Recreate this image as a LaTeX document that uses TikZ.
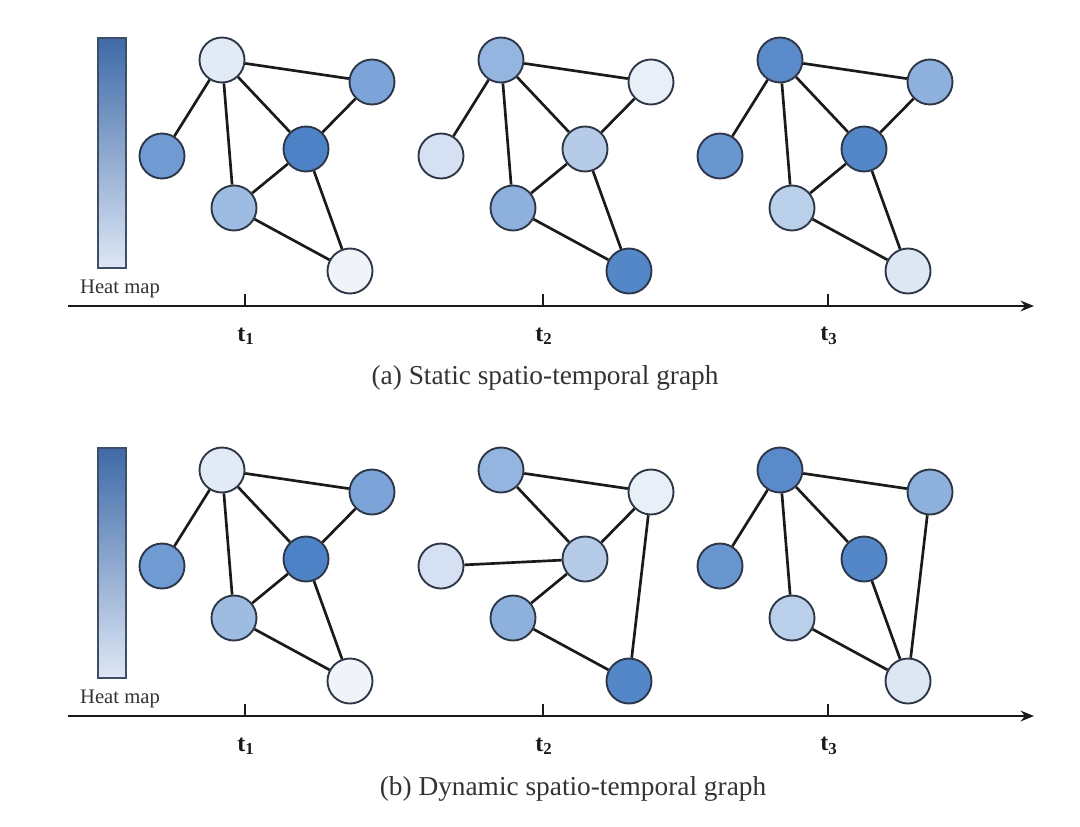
\documentclass[tikz,border=0pt]{standalone}
\usepackage{fontspec}
\setmainfont{Liberation Serif}
\usetikzlibrary{arrows.meta}
\definecolor{nodeborder}{HTML}{2C3646}
\definecolor{edgecol}{HTML}{1A1A1A}
\definecolor{hmtop}{HTML}{3E6AA8}
\definecolor{hmbot}{HTML}{DDE7F5}
\definecolor{hmborder}{HTML}{3F4D66}
\definecolor{txtcol}{HTML}{333333}
% node fills
\definecolor{gAa}{HTML}{E2EAF5}
\definecolor{gAb}{HTML}{7CA4D8}
\definecolor{gAc}{HTML}{6F9AD2}
\definecolor{gAd}{HTML}{4E82C6}
\definecolor{gAe}{HTML}{9EBCE2}
\definecolor{gAf}{HTML}{F0F3F8}
\definecolor{gBa}{HTML}{93B5E0}
\definecolor{gBb}{HTML}{E9EFF7}
\definecolor{gBc}{HTML}{D5E1F2}
\definecolor{gBd}{HTML}{B5CBE8}
\definecolor{gBe}{HTML}{8EB0DC}
\definecolor{gBf}{HTML}{5487C8}
\definecolor{gCa}{HTML}{5B8ACB}
\definecolor{gCb}{HTML}{8EB0DC}
\definecolor{gCc}{HTML}{6A96D0}
\definecolor{gCd}{HTML}{5487C8}
\definecolor{gCe}{HTML}{BACFEA}
\definecolor{gCf}{HTML}{DDE7F4}
\newcommand{\sixnodes}[7]{%
  \node[gnode,fill=#2] (#1A) at (222,60) {};
  \node[gnode,fill=#3] (#1B) at (372,82) {};
  \node[gnode,fill=#4] (#1C) at (162,156) {};
  \node[gnode,fill=#5] (#1D) at (306,149) {};
  \node[gnode,fill=#6] (#1E) at (234,208) {};
  \node[gnode,fill=#7] (#1F) at (350,271) {};
}
\begin{document}
\begin{tikzpicture}[x=0.75pt,y=-0.75pt,
  gnode/.style={circle,draw=nodeborder,line width=1.4pt,minimum size=33.75pt,inner sep=0pt},
  gedge/.style={draw=edgecol,line width=2pt},
  axisline/.style={draw=edgecol,line width=2.2pt,-{Stealth[length=10pt,width=8pt]}},
  tickmark/.style={draw=edgecol,line width=2pt},
  heatbar/.style={draw=hmborder,line width=1.2pt,top color=hmtop,bottom color=hmbot,minimum width=21pt,minimum height=172.5pt,inner sep=0pt},
  heatlabel/.style={font=\fontsize{15.5}{18}\selectfont,text=txtcol},
  tlabel/.style={font=\fontsize{18}{20}\selectfont\bfseries,text=edgecol},
  caption/.style={font=\fontsize{20.5}{24}\selectfont,text=txtcol}]
\useasboundingbox (0,0) rectangle (1080,826);
\fill[white] (0,0) rectangle (1080,826);

% ================= (a) static =================
\node[heatbar] (hm1) at (112,153) {};
\node[heatlabel] (hml1) at (120,289) {Heat map};

\begin{scope}
  \sixnodes{p}{gAa}{gAb}{gAc}{gAd}{gAe}{gAf}
\end{scope}
\begin{scope}[shift={(279,0)}]
  \sixnodes{q}{gBa}{gBb}{gBc}{gBd}{gBe}{gBf}
\end{scope}
\begin{scope}[shift={(558,0)}]
  \sixnodes{r}{gCa}{gCb}{gCc}{gCd}{gCe}{gCf}
\end{scope}
\foreach \g in {p,q,r}{
  \draw[gedge] (\g A) -- (\g C);
  \draw[gedge] (\g A) -- (\g E);
  \draw[gedge] (\g A) -- (\g D);
  \draw[gedge] (\g A) -- (\g B);
  \draw[gedge] (\g B) -- (\g D);
  \draw[gedge] (\g D) -- (\g E);
  \draw[gedge] (\g D) -- (\g F);
  \draw[gedge] (\g E) -- (\g F);
}

\coordinate (ax0) at (68,306);
\coordinate (ax1) at (1034,306);
\draw[axisline] (ax0) -- (ax1);
\coordinate (tk1) at (245,306);
\coordinate (tk2) at (543,306);
\coordinate (tk3) at (828,306);
\foreach \k in {1,2,3}{\draw[tickmark] (tk\k) -- ++(0,-12);}
\node[tlabel] (lt1) at (246,336) {t\textsubscript{1}};
\node[tlabel] (lt2) at (544,336) {t\textsubscript{2}};
\node[tlabel] (lt3) at (829,336) {t\textsubscript{3}};
\node[caption] (capa) at (545,378) {(a) Static spatio-temporal graph};

% ================= (b) dynamic =================
\node[heatbar] (hm2) at (112,563) {};
\node[heatlabel] (hml2) at (120,699) {Heat map};

\begin{scope}[shift={(0,410)}]
  \sixnodes{u}{gAa}{gAb}{gAc}{gAd}{gAe}{gAf}
\end{scope}
\begin{scope}[shift={(279,410)}]
  \sixnodes{v}{gBa}{gBb}{gBc}{gBd}{gBe}{gBf}
\end{scope}
\begin{scope}[shift={(558,410)}]
  \sixnodes{w}{gCa}{gCb}{gCc}{gCd}{gCe}{gCf}
\end{scope}
% graph t1 (same as static)
\draw[gedge] (uA) -- (uC);
\draw[gedge] (uA) -- (uE);
\draw[gedge] (uA) -- (uD);
\draw[gedge] (uA) -- (uB);
\draw[gedge] (uB) -- (uD);
\draw[gedge] (uD) -- (uE);
\draw[gedge] (uD) -- (uF);
\draw[gedge] (uE) -- (uF);
% graph t2
\draw[gedge] (vA) -- (vB);
\draw[gedge] (vA) -- (vD);
\draw[gedge] (vC) -- (vD);
\draw[gedge] (vB) -- (vD);
\draw[gedge] (vD) -- (vE);
\draw[gedge] (vE) -- (vF);
\draw[gedge] (vB) -- (vF);
% graph t3
\draw[gedge] (wA) -- (wC);
\draw[gedge] (wA) -- (wE);
\draw[gedge] (wA) -- (wD);
\draw[gedge] (wA) -- (wB);
\draw[gedge] (wB) -- (wF);
\draw[gedge] (wD) -- (wF);
\draw[gedge] (wE) -- (wF);

\coordinate (bx0) at (68,716);
\coordinate (bx1) at (1034,716);
\draw[axisline] (bx0) -- (bx1);
\coordinate (bk1) at (245,716);
\coordinate (bk2) at (543,716);
\coordinate (bk3) at (828,716);
\foreach \k in {1,2,3}{\draw[tickmark] (bk\k) -- ++(0,-12);}
\node[tlabel] (mt1) at (246,746) {t\textsubscript{1}};
\node[tlabel] (mt2) at (544,746) {t\textsubscript{2}};
\node[tlabel] (mt3) at (829,746) {t\textsubscript{3}};
\node[caption] (capb) at (573,789) {(b) Dynamic spatio-temporal graph};
\end{tikzpicture}
\end{document}
